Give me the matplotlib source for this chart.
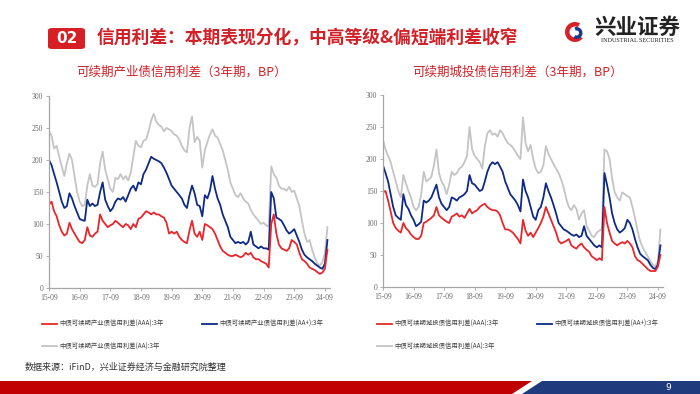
import matplotlib
matplotlib.use('Agg')
from matplotlib import pyplot
from matplotlib import patches

pyplot.rcParams['font.family'] = ['Noto Sans CJK SC', 'DejaVu Sans']

# Monthly readings, 2015-09 .. 2024-10 (month index 0..109)
months = list(range(110))
tick_pos = list(range(0, 109, 12))
tick_labels = ['15-09', '16-09', '17-09', '18-09', '19-09',
               '20-09', '21-09', '22-09', '23-09', '24-09']

# Left chart: 产业债
ind_aa = [245, 238, 218, 222, 205, 190, 175, 195, 210, 200,
          175, 150, 135, 128, 130, 160, 178, 160, 158, 162,
          195, 213, 185, 170, 155, 150, 172, 170, 178, 170,
          175, 168, 180, 205, 230, 222, 220, 230, 232, 245,
          262, 272, 260, 255, 252, 245, 250, 248, 245, 240,
          238, 232, 222, 215, 212, 250, 268, 228, 236, 230,
          188, 215, 228, 240, 248, 238, 235, 225, 215, 200,
          185, 165, 155, 145, 142, 148, 140, 135, 132, 122,
          115, 110, 105, 100, 102, 98, 96, 190, 178, 172,
          160, 155, 155, 152, 158, 150, 152, 140, 128, 105,
          85, 72, 75, 60, 48, 38, 35, 40, 55, 95]
ind_aap = [200, 192, 178, 165, 150, 135, 125, 128, 148, 140,
           128, 118, 108, 106, 105, 138, 128, 132, 128, 130,
           150, 165, 138, 128, 120, 125, 135, 140, 138, 142,
           135, 145, 155, 160, 152, 165, 162, 178, 185, 195,
           205, 202, 200, 198, 195, 188, 180, 170, 160, 155,
           150, 145, 140, 130, 125, 145, 160, 148, 130, 128,
           112, 145, 140, 152, 175, 155, 140, 130, 115, 105,
           95, 80, 75, 70, 72, 70, 72, 68, 72, 88,
           68, 65, 62, 65, 62, 62, 60, 150, 140, 110,
           108, 105, 98, 90, 85, 88, 92, 82, 72, 60,
           52, 48, 45, 42, 38, 35, 32, 30, 38, 75]
ind_aaa = [130, 135, 120, 112, 98, 88, 82, 85, 102, 92,
           85, 78, 72, 70, 75, 95, 82, 80, 85, 88,
           115, 105, 100, 95, 98, 100, 105, 102, 98, 95,
           100, 98, 92, 100, 95, 108, 110, 115, 120, 118,
           115, 118, 115, 115, 112, 110, 102, 85, 88, 85,
           88, 80, 75, 72, 70, 90, 105, 85, 80, 88,
           75, 100, 98, 95, 92, 85, 75, 65, 58, 55,
           52, 50, 50, 52, 50, 48, 50, 55, 52, 55,
           48, 45, 45, 42, 40, 38, 32, 100, 115, 85,
           68, 62, 60, 58, 62, 75, 72, 68, 55, 45,
           42, 38, 32, 30, 28, 25, 22, 24, 30, 60]

# Right chart: 城投债
cty_aa = [230, 215, 205, 195, 180, 165, 150, 140, 175, 162,
          150, 140, 125, 120, 125, 145, 180, 165, 168, 172,
          190, 215, 178, 165, 158, 145, 160, 180, 175, 178,
          185, 188, 195, 205, 250, 215, 205, 200, 195, 185,
          220, 240, 245, 238, 240, 235, 245, 240, 232, 225,
          222, 218, 212, 205, 200, 265, 225, 212, 222, 200,
          185, 178, 180, 190, 220, 208, 200, 192, 185, 178,
          168, 155, 138, 125, 120, 128, 122, 105, 115, 120,
          95, 88, 80, 78, 85, 88, 90, 215, 212, 200,
          170, 148, 140, 135, 148, 145, 142, 140, 125, 108,
          88, 72, 62, 55, 48, 40, 35, 32, 40, 90]
cty_aap = [190, 178, 165, 145, 125, 112, 108, 105, 145, 128,
           122, 112, 105, 95, 98, 102, 135, 132, 135, 140,
           150, 160, 140, 130, 125, 120, 125, 140, 138, 135,
           140, 142, 145, 150, 175, 162, 160, 155, 150, 152,
           165, 180, 190, 195, 192, 195, 188, 180, 165, 155,
           145, 140, 135, 128, 118, 168, 150, 140, 125, 110,
           105, 120, 125, 140, 162, 150, 140, 128, 115, 100,
           95, 90, 88, 85, 82, 80, 82, 78, 80, 95,
           80, 75, 70, 65, 62, 65, 62, 178, 160, 140,
           115, 100, 90, 85, 88, 92, 105, 100, 90, 75,
           62, 52, 48, 45, 42, 35, 30, 28, 35, 65]
cty_aaa = [148, 150, 135, 118, 100, 92, 88, 85, 100, 92,
           88, 82, 78, 75, 75, 80, 100, 102, 105, 108,
           112, 125, 112, 108, 105, 102, 100, 110, 112, 115,
           110, 112, 108, 115, 122, 115, 118, 120, 125, 128,
           130, 125, 122, 120, 120, 118, 112, 100, 90, 90,
           88, 85, 80, 75, 68, 105, 88, 80, 85, 78,
           85, 92, 100, 110, 125, 115, 105, 95, 85, 72,
           68, 70, 72, 75, 65, 62, 60, 65, 68, 62,
           58, 55, 48, 45, 42, 45, 42, 125, 100, 85,
           72, 68, 65, 68, 70, 68, 72, 68, 62, 48,
           42, 40, 36, 32, 28, 25, 25, 25, 32, 50]

col_red = '#e8262b'
col_blue = '#0d2a86'
col_gray = '#c4c4c4'
title_red = '#d31f26'

W, H = 700, 394
f = pyplot.figure(figsize=(7, 3.94), dpi=100)


def px(x0, y0, w, h):
    # pixel box (top-left origin) -> figure fraction rect
    return [x0 / W, 1 - (y0 + h) / H, w / W, h / H]


def spread_chart(ax, aaa, aap, aa, kind):
    ax.plot(months, aa, color=col_gray, lw=1.3, label='中债可续期%s信用利差(AA):3年' % kind)
    ax.plot(months, aap, color=col_blue, lw=1.3, label='中债可续期%s信用利差(AA+):3年' % kind)
    ax.plot(months, aaa, color=col_red, lw=1.3, label='中债可续期%s信用利差(AAA):3年' % kind)
    ax.set_xlim(0, 110)
    ax.set_ylim(0, 300)
    ax.set_yticks(range(0, 301, 50))
    ax.set_xticks(tick_pos)
    ax.set_xticklabels(tick_labels)
    for s in ['top', 'right']:
        ax.spines[s].set_visible(False)
    for s in ['left', 'bottom']:
        ax.spines[s].set_color('#a6a6a6')
        ax.spines[s].set_linewidth(0.9)
    ax.tick_params(length=2, width=0.6, color='#a6a6a6', labelsize=5.5,
                   labelcolor='#6b6b6b', pad=2)
    for lab in ax.get_xticklabels() + ax.get_yticklabels():
        lab.set_family('Liberation Serif')
    h, l = ax.get_legend_handles_labels()
    # order so that row 1 = AAA, AA+ and row 2 = AA
    order = [2, 0, 1]
    return [h[i] for i in order], [l[i] for i in order]


ax0 = f.add_axes(px(49, 96, 281, 192))
hl0 = spread_chart(ax0, ind_aaa, ind_aap, ind_aa, '产业债')
ax1 = f.add_axes(px(383, 95, 280, 192))
hl1 = spread_chart(ax1, cty_aaa, cty_aap, cty_aa, '城投债')

for ax, (hh, ll), x0 in [(ax0, hl0, 42), (ax1, hl1, 377)]:
    ax.legend(hh, ll, loc='upper left', bbox_to_anchor=(x0 / W, 1 - 320 / H),
              bbox_transform=f.transFigure, ncol=2, frameon=False,
              prop={'size': 4.6}, labelcolor='#404040', handlelength=2.4,
              handletextpad=0.3, columnspacing=6.0, labelspacing=2.3,
              borderpad=0, borderaxespad=0)

# chart titles
f.text(182 / W, 1 - 72 / H, '可续期产业债信用利差（3年期，BP）', color=title_red,
       fontsize=9, ha='center', va='center')
f.text(518 / W, 1 - 72 / H, '可续期城投债信用利差（3年期，BP）', color=title_red,
       fontsize=9, ha='center', va='center')

# page header
f.patches.append(patches.FancyBboxPatch((48 / W, 1 - 49 / H), 37 / W, 21 / H,
                 boxstyle='round,pad=0,rounding_size=0.006', transform=f.transFigure,
                 facecolor='#d71f26', edgecolor='none'))
f.text(66.5 / W, 1 - 38.5 / H, '02', color='white', fontsize=11, fontweight='bold',
       ha='center', va='center', family='DejaVu Sans')
f.text(97 / W, 1 - 38 / H, '信用利差：本期表现分化，中高等级&偏短端利差收窄',
       color=title_red, fontsize=12.8, fontweight='bold', ha='left', va='center')

# logo (drawn in inches so circles stay round)
f.patches.append(patches.Wedge((5.75, (H - 32) / 100), 0.10, 60, 320, width=0.045,
                 transform=f.dpi_scale_trans, facecolor='#d71f26', edgecolor='none'))
f.patches.append(patches.Wedge((5.765, (H - 33) / 100), 0.06, -120, 110, width=0.035,
                 transform=f.dpi_scale_trans, facecolor='#1b3a8c', edgecolor='none'))
f.text(637 / W, 1 - 27.5 / H, '兴业证券', color='#222222', fontsize=15.5, fontweight='bold',
       ha='center', va='center')
f.text(637 / W, 1 - 40.5 / H, 'INDUSTRIAL SECURITIES', color='#222222', fontsize=4.4,
       ha='center', va='center', family='Liberation Serif')

# source
f.text(25 / W, 1 - 367 / H, '数据来源：iFinD，兴业证券经济与金融研究院整理',
       color='#333333', fontsize=6.5, ha='left', va='center')

# bottom band
f.patches.append(patches.Polygon([(0, 1 - 381 / H), (532 / W, 1 - 381 / H),
                 (512 / W, 0), (0, 0)], closed=True, transform=f.transFigure,
                 facecolor='#c00000', edgecolor='none'))
f.patches.append(patches.Polygon([(542 / W, 1 - 381 / H), (1, 1 - 381 / H),
                 (1, 0), (522 / W, 0)], closed=True, transform=f.transFigure,
                 facecolor='#1f3b7d', edgecolor='none'))
f.text(668 / W, 1 - 388 / H, '9', color='white', fontsize=6.5, ha='center', va='center',
       family='DejaVu Sans')

pyplot.savefig('out.png', dpi=100)
